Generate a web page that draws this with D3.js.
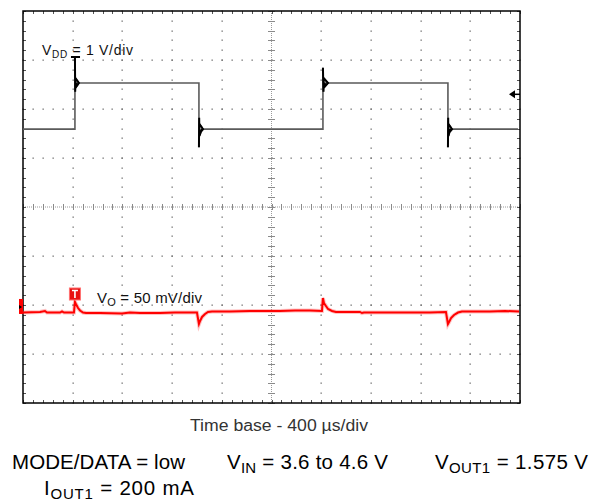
<!DOCTYPE html>
<html>
<head>
<meta charset="utf-8">
<script src="https://cdn.jsdelivr.net/npm/d3@7"></script>
<style>
  html, body { margin: 0; padding: 0; background: #fff; }
  svg { display: block; }
  text { font-family: "Liberation Sans", Arial, sans-serif; }
</style>
</head>
<body>
<svg id="chart" width="603" height="504"></svg>
<script>
// ---------------- data ----------------
const timeBaseUs = 400;           // µs per division
const nDivX = 10;
const nDivY = 8;
const vddPerDiv = 1;              // V/div
const voPerDiv = 0.05;            // V/div (50 mV)
const vddRange = [-2, 6];         // volts shown on screen for VDD channel
const voRange = [1.482, 1.882];   // volts shown on screen for VO channel

// VDD trace (µs, V) – line transient 3.6 V <-> 4.55 V with edge ringing
const vddTime  = [0, 418, 418, 386, 459, 418, 420, 422, 450, 422, 430,
                  1416, 1416, 1418, 1419, 1449, 1419, 1420, 1440,
                  2414, 2414, 2418, 2420, 2455, 2420, 2430,
                  3420, 3420, 3422, 3423, 3453, 3423, 3424, 3440, 3984];
const vddVolts = [3.59, 3.59, 5.06, 5.06, 5.06, 5.06, 4.35, 4.63, 4.53, 4.43, 4.53,
                  4.53, 3.22, 3.82, 3.50, 3.59, 3.70, 3.45, 3.59,
                  3.59, 4.84, 4.35, 4.63, 4.53, 4.43, 4.53,
                  4.53, 3.22, 3.82, 3.50, 3.59, 3.70, 3.45, 3.59, 3.59];
const vddEdges = [418, 1416, 2414, 3420];

// VO trace (µs, V)
const voTime  = [0, 137, 177, 193, 298, 314, 330, 410, 418, 426, 443, 459, 483, 507, 620, 797, 861, 942, 1103, 1223, 1344, 1400,
                 1416, 1425, 1441, 1465, 1489, 1521, 1666, 1827, 1948, 2068, 2189, 2270, 2310, 2406,
                 2414, 2422, 2438, 2455, 2487, 2519, 2712, 2728, 2744, 2913, 3034, 3275, 3404,
                 3420, 3429, 3445, 3469, 3501, 3533, 3758, 3879, 3992];
const voVolts = [1.5743, 1.5749, 1.5759, 1.5743, 1.5743, 1.5754, 1.5743, 1.5743, 1.5851, 1.5830, 1.5789, 1.5764, 1.5743, 1.5738, 1.5738, 1.5733, 1.5743, 1.5738, 1.5738, 1.5743, 1.5743, 1.5743,
                 1.5626, 1.5657, 1.5698, 1.5728, 1.5749, 1.5754, 1.5754, 1.5759, 1.5759, 1.5759, 1.5764, 1.5764, 1.5764, 1.5759,
                 1.5891, 1.5840, 1.5810, 1.5779, 1.5759, 1.5749, 1.5749, 1.5738, 1.5743, 1.5743, 1.5743, 1.5743, 1.5749,
                 1.5626, 1.5647, 1.5687, 1.5718, 1.5743, 1.5754, 1.5754, 1.5759, 1.5754];

const triggerTime = 418;     // µs
const triggerLevel = 4.3;    // V on VDD
const ch2Marker = 1.580;     // V

const vddLabel = ["V", "DD", " = 1 V/div"];
const voLabel  = ["V", "O", " = 50 mV/div"];
const timeLabel = "Time base - 400 µs/div";
const condLine1 = [["MODE/DATA = low"], ["V", "IN", " = 3.6 to 4.6 V"], ["V", "OUT1", " = 1.575 V"]];
const condLine2 = [["I", "OUT1", " = 200 mA"]];

// ---------------- layout ----------------
const L = 23, R = 520, T = 11, B = 403;
const svg = d3.select("#chart");

const x = d3.scaleLinear().domain([0, timeBaseUs * nDivX]).range([L, R]);
const yV = d3.scaleLinear().domain(vddRange).range([B, T]);
const yO = d3.scaleLinear().domain(voRange).range([B, T]);

// ---------------- graticule ----------------
const g = svg.append("g");
const majorX = d3.range(0, nDivX + 1).map(i => i * timeBaseUs);
const majorY = d3.range(vddRange[0], vddRange[1] + 0.001, vddPerDiv);
const minorX = d3.range(0, nDivX * 5 + 1).map(i => i * timeBaseUs / 5);
const minorY = d3.range(0, nDivY * 5 + 1).map(i => vddRange[0] + i * vddPerDiv / 5);
const cx = timeBaseUs * nDivX / 2;
const cy = (vddRange[0] + vddRange[1]) / 2;
const dotCol = "#6e6e6e";

// dots on interior major lines
majorX.slice(1, -1).forEach(t => {
  if (t === cx) return;
  minorY.forEach(v => {
    g.append("rect").attr("x", Math.round(x(t)) - 0.5).attr("y", Math.round(yV(v)) - 0.5)
      .attr("width", 1.3).attr("height", 1.3).attr("fill", dotCol);
  });
});
majorY.slice(1, -1).forEach(v => {
  if (v === cy) return;
  minorX.forEach(t => {
    g.append("rect").attr("x", Math.round(x(t)) - 0.5).attr("y", Math.round(yV(v)) - 0.5)
      .attr("width", 1.3).attr("height", 1.3).attr("fill", dotCol);
  });
});

// center cross with ticks
g.append("line").attr("x1", x(cx)).attr("x2", x(cx)).attr("y1", T).attr("y2", B)
  .attr("stroke", "#9a9a9a").attr("stroke-width", 1).attr("stroke-dasharray", "1,1");
g.append("line").attr("x1", L).attr("x2", R).attr("y1", yV(cy)).attr("y2", yV(cy))
  .attr("stroke", "#9a9a9a").attr("stroke-width", 1).attr("stroke-dasharray", "1,1");
minorY.forEach(v => {
  g.append("line").attr("x1", x(cx) - 3.5).attr("x2", x(cx) + 3.5)
    .attr("y1", Math.round(yV(v)) + 0.5).attr("y2", Math.round(yV(v)) + 0.5)
    .attr("stroke", "#8a8a8a").attr("stroke-width", 1);
});
minorX.forEach(t => {
  g.append("line").attr("x1", Math.round(x(t)) + 0.5).attr("x2", Math.round(x(t)) + 0.5)
    .attr("y1", yV(cy) - 3).attr("y2", yV(cy) + 3)
    .attr("stroke", "#8a8a8a").attr("stroke-width", 1);
});

// border ticks
minorX.forEach(t => {
  const px = Math.round(x(t)) + 0.5;
  g.append("line").attr("x1", px).attr("x2", px).attr("y1", T).attr("y2", T + 3).attr("stroke", "#555");
  g.append("line").attr("x1", px).attr("x2", px).attr("y1", B - 3).attr("y2", B).attr("stroke", "#555");
});
minorY.forEach(v => {
  const py = Math.round(yV(v)) + 0.5;
  g.append("line").attr("x1", L).attr("x2", L + 3).attr("y1", py).attr("y2", py).attr("stroke", "#555");
  g.append("line").attr("x1", R - 3).attr("x2", R).attr("y1", py).attr("y2", py).attr("stroke", "#555");
});

// frame
g.append("rect").attr("x", L).attr("y", T).attr("width", R - L).attr("height", B - T)
  .attr("fill", "none").attr("stroke", "#000").attr("stroke-width", 1.5);

// ---------------- traces ----------------
const vddPts = vddTime.map((t, i) => [t, vddVolts[i]]);
const lineV = d3.line().x(d => x(d[0])).y(d => yV(d[1]));
svg.append("path").attr("d", lineV(vddPts)).attr("fill", "none")
  .attr("stroke", "#5a5a5a").attr("stroke-width", 1.6).attr("stroke-linejoin", "miter");
// edges drawn darker
vddEdges.forEach(e => {
  const idx = vddPts.map((p, i) => i).filter(i => Math.abs(vddPts[i][0] - e) <= 45);
  const sub = idx.slice(1).map(i => vddPts[i]);
  svg.append("path").attr("d", lineV(sub)).attr("fill", "none")
    .attr("stroke", "#000").attr("stroke-width", 2);
});

const voPts = voTime.map((t, i) => [t, voVolts[i]]);
const lineO = d3.line().x(d => x(d[0])).y(d => yO(d[1]));
svg.append("path").attr("d", lineO(voPts)).attr("fill", "none")
  .attr("stroke", "rgba(255,80,80,0.35)").attr("stroke-width", 4);
svg.append("path").attr("d", lineO(voPts)).attr("fill", "none")
  .attr("stroke", "#ff0000").attr("stroke-width", 2);

// ---------------- markers ----------------
// trigger level arrow (right)
const ty = yV(triggerLevel);
svg.append("path").attr("d", `M${R - 11},${ty} L${R - 5},${ty - 4} L${R - 5},${ty + 4} Z`).attr("fill", "#000");
svg.append("line").attr("x1", R - 6).attr("x2", R).attr("y1", ty).attr("y2", ty).attr("stroke", "#000").attr("stroke-width", 1.5);

// trigger position marker
const tx = x(triggerTime);
svg.append("rect").attr("x", tx - 5.5).attr("y", 288).attr("width", 11).attr("height", 12)
  .attr("fill", "#e81010").attr("stroke", "#ff7070").attr("stroke-width", 1);
svg.append("path").attr("d", `M${tx - 3},${290.5} L${tx + 3},${290.5} M${tx},${290.5} L${tx},${298}`)
  .attr("stroke", "#fff").attr("stroke-width", 1.6).attr("fill", "none");

// ch2 reference marker (left)
const my = yO(ch2Marker);
svg.append("rect").attr("x", L - 4).attr("y", my - 8).attr("width", 4).attr("height", 15).attr("fill", "#ff0000");
svg.append("path").attr("d", `M${L - 4},${my - 2} L${L - 1},${my} L${L - 4},${my + 2} Z`).attr("fill", "#000");

// ---------------- labels ----------------
function subText(sel, parts, px, py, size, subSize, subDy, color, len) {
  const t = sel.append("text").attr("x", px).attr("y", py).attr("font-size", size).attr("fill", color);
  t.append("tspan").text(parts[0]);
  if (parts.length > 1) {
    t.append("tspan").attr("font-size", subSize).attr("dy", subDy).text(parts[1]);
    t.append("tspan").attr("dy", -subDy).text(parts[2]);
  }
  if (len) t.attr("textLength", len).attr("lengthAdjust", "spacing");
  return t;
}
subText(svg, vddLabel, 42, 55, 14, 10, 3, "#111", 91);
subText(svg, voLabel, 97, 303, 15, 11, 3, "#111", 105);

svg.append("text").attr("x", 190).attr("y", 431).attr("font-size", 16).attr("fill", "#333")
  .attr("textLength", 178).attr("lengthAdjust", "spacingAndGlyphs").text(timeLabel);

const line1X = [12, 227, 435];
const line1Len = [173, 161, 153];
condLine1.forEach((p, i) => subText(svg, p, line1X[i], 469, 20.5, 15, 4, "#000", line1Len[i]));
subText(svg, condLine2[0], 44, 495, 20.5, 15, 4, "#000", 150);
</script>
</body>
</html>
